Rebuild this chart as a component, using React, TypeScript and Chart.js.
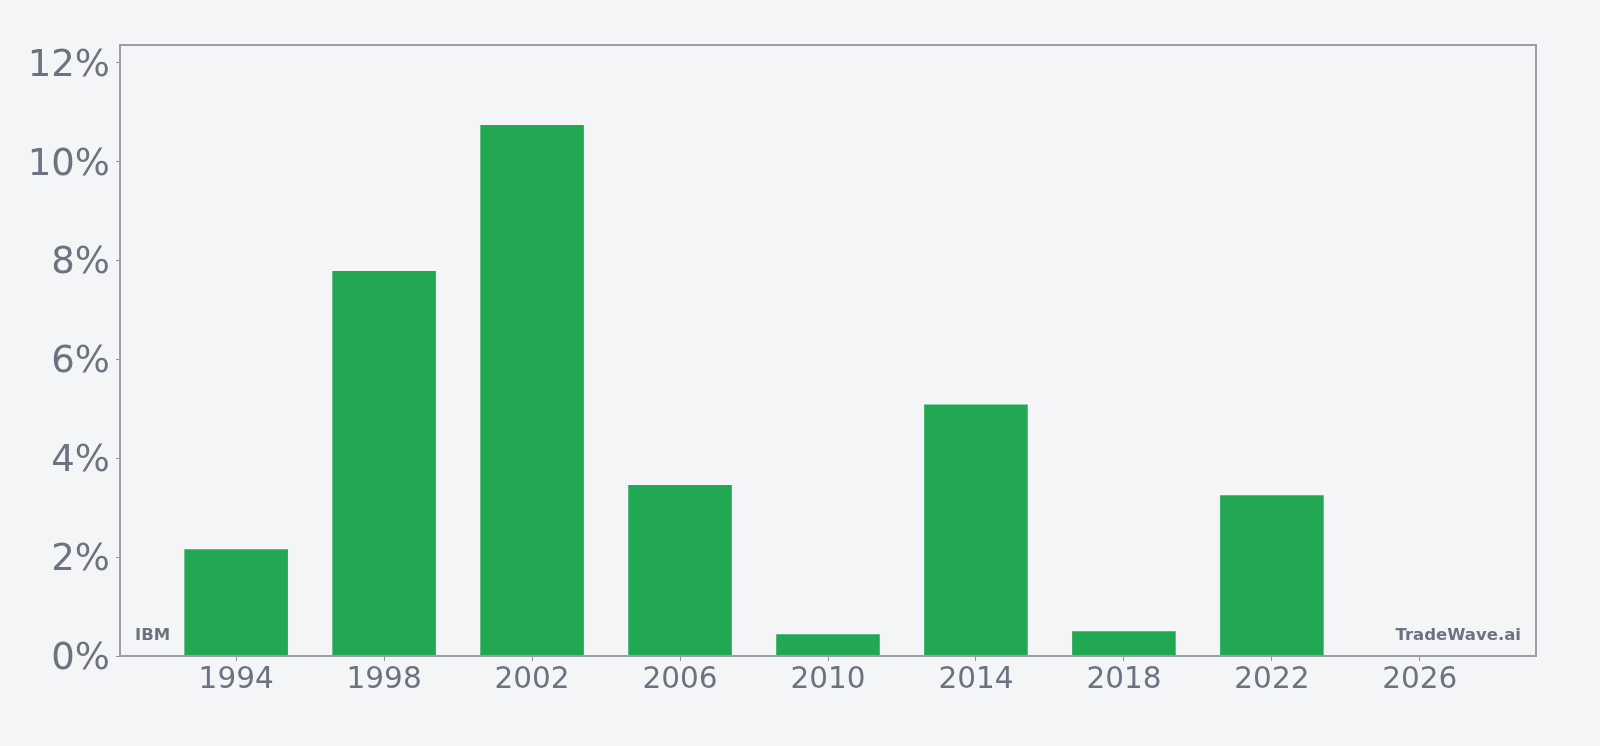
import React, { useEffect, useRef } from "react";
import { Chart, registerables } from "chart.js";

Chart.register(...registerables);

const years = [1994, 1998, 2002, 2006, 2010, 2014, 2018, 2022, 2026];
const values: (number | null)[] = [2.16, 7.79, 10.74, 3.46, 0.44, 5.09, 0.5, 3.25, null];
const yTicks = [0, 2, 4, 6, 8, 10, 12];
const xTicks = [1994, 1998, 2002, 2006, 2010, 2014, 2018, 2022, 2026];
const leftLabel = "IBM";
const rightLabel = "TradeWave.ai";

const BG = "#f4f5f7";
const BAR = "#22a853";
const TEXT = "#6b7280";
const BORDER = "#9c9ea7";

export default function App() {
  const ref = useRef<HTMLCanvasElement | null>(null);

  useEffect(() => {
    document.body.style.margin = "0";
    document.body.style.background = BG;
    const canvas = ref.current;
    if (!canvas) return;

    const framePlugin = {
      id: "frame",
      beforeDraw(chart: any) {
        const { ctx, width, height } = chart;
        ctx.save();
        ctx.fillStyle = BG;
        ctx.fillRect(0, 0, width, height);
        ctx.restore();
      },
      afterDraw(chart: any) {
        const { ctx, chartArea } = chart;
        ctx.save();
        ctx.strokeStyle = BORDER;
        ctx.lineWidth = 2;
        ctx.strokeRect(
          chartArea.left,
          chartArea.top,
          chartArea.right - chartArea.left,
          chartArea.bottom - chartArea.top
        );
        ctx.fillStyle = TEXT;
        ctx.font = "bold 16.5px 'DejaVu Sans'";
        ctx.textBaseline = "alphabetic";
        ctx.textAlign = "left";
        ctx.fillText(leftLabel, chartArea.left + 15, chartArea.bottom - 16);
        ctx.textAlign = "right";
        ctx.fillText(rightLabel, chartArea.right - 15, chartArea.bottom - 16);
        ctx.restore();
      },
    };

    const chart = new Chart(canvas, {
      type: "bar",
      data: {
        datasets: [
          {
            data: years.map((y, i) => ({ x: y, y: values[i] })) as any,
            backgroundColor: BAR,
            borderWidth: 0,
            categoryPercentage: 1,
            barPercentage: 0.7,
          },
        ],
      },
      options: {
        animation: false,
        responsive: true,
        maintainAspectRatio: false,
        layout: { padding: { top: 45, right: 64, left: 0, bottom: 0 } },
        plugins: {
          legend: { display: false },
          tooltip: { enabled: false },
        },
        scales: {
          x: {
            type: "linear",
            min: 1990.86,
            max: 2029.14,
            offset: false,
            afterBuildTicks: (scale: any) => {
              scale.ticks = xTicks.map((v) => ({ value: v }));
            },
            afterFit: (scale: any) => {
              scale.height = 90;
            },
            border: { display: false },
            grid: {
              display: true,
              offset: false,
              drawOnChartArea: false,
              drawTicks: true,
              tickLength: 5,
              color: "#8f929b",
              lineWidth: 1,
            },
            ticks: {
              padding: 2,
              color: TEXT,
              font: { family: "'DejaVu Sans'", size: 29.5 },
              callback: (v: any) => String(v),
              maxRotation: 0,
              autoSkip: false,
            },
          },
          y: {
            min: 0,
            max: 12.36,
            afterBuildTicks: (scale: any) => {
              scale.ticks = yTicks.map((v) => ({ value: v }));
            },
            afterFit: (scale: any) => {
              scale.width = 120;
            },
            border: { display: false },
            grid: {
              display: true,
              drawOnChartArea: false,
              drawTicks: true,
              tickLength: 4,
              color: "#8f929b",
              lineWidth: 1,
            },
            ticks: {
              padding: 6,
              color: TEXT,
              font: { family: "'DejaVu Sans'", size: 37, lineHeight: 0.18 },
              callback: (v: any) => ["", `${v}%`],
            },
          },
        },
      },
      plugins: [framePlugin],
    });

    return () => chart.destroy();
  }, []);

  return (
    <div style={{ width: "100vw", height: "100vh", position: "relative", background: BG }}>
      <canvas ref={ref} />
    </div>
  );
}
